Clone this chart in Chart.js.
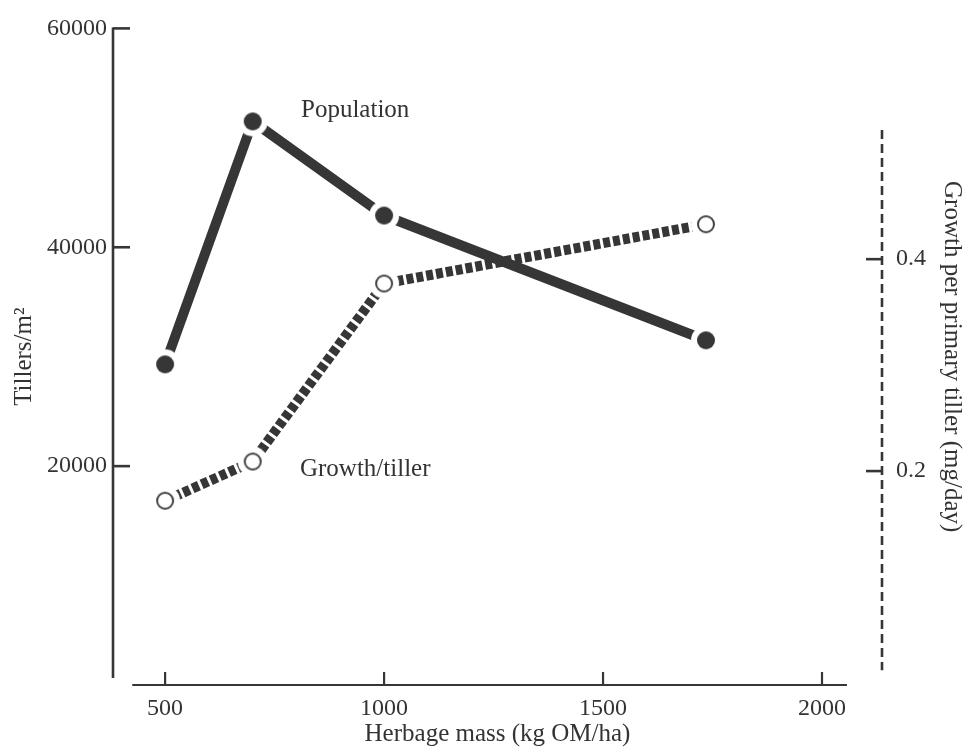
<!DOCTYPE html>
<html lang="en">
<head>
    <meta charset="UTF-8">
    <title>Tillers and growth per tiller vs herbage mass</title>
    <script src="https://cdn.jsdelivr.net/npm/chart.js"></script>
    <style>
        body { margin: 0; background: #fff; }
        #chart-container { width: 967px; height: 749px; }
    </style>
</head>
<body>
    <div id="chart-container">
        <canvas id="tillerChart" width="967" height="749"></canvas>
    </div>

    <script>
        // Herbage mass (kg OM/ha) at each sampling
        const herbageMass = [500, 700, 1000, 1735];
        // Tiller population (tillers/m²)
        const tillers = [29300, 51500, 42900, 31500];
        // Growth per primary tiller (mg/day)
        const growthPerTiller = [0.172, 0.209, 0.377, 0.433];

        const xTicks = [500, 1000, 1500, 2000];
        const tillerTicks = [20000, 40000, 60000];
        const growthTicks = [0.2, 0.4];

        const INK = "#363636";
        const SERIF = "'Liberation Serif', 'DejaVu Serif', serif";

        Chart.defaults.font.family = SERIF;
        Chart.defaults.color = "#333";

        // Point marker with a white halo so the line stops short of it
        function makeMarker(filled) {
            const c = document.createElement("canvas");
            c.width = c.height = 32;
            const g = c.getContext("2d");
            g.fillStyle = "#fff";
            g.beginPath();
            g.arc(16, 16, 15, 0, Math.PI * 2);
            g.fill();
            g.beginPath();
            if (filled) {
                g.arc(16, 16, 9, 0, Math.PI * 2);
                g.fillStyle = INK;
                g.fill();
            } else {
                g.arc(16, 16, 8, 0, Math.PI * 2);
                g.lineWidth = 2;
                g.strokeStyle = "#444";
                g.stroke();
            }
            return c;
        }

        function setTicks(values) {
            return function (scale) {
                scale.ticks = values.map(v => ({ value: v }));
            };
        }

        // Axis lines, inward tick marks and curve labels
        const axisDecor = {
            id: "axisDecor",
            beforeDatasetsDraw(chart) {
                const { ctx, chartArea, scales } = chart;
                const x = scales.x, y = scales.y, yr = scales.yGrowth;
                ctx.save();
                ctx.strokeStyle = INK;
                ctx.lineCap = "butt";

                // left axis
                ctx.lineWidth = 2.6;
                ctx.beginPath();
                ctx.moveTo(chartArea.left, y.getPixelForValue(60000) - 1);
                ctx.lineTo(chartArea.left, chartArea.bottom - 7);
                ctx.stroke();
                tillerTicks.forEach(v => {
                    const py = y.getPixelForValue(v);
                    ctx.beginPath();
                    ctx.moveTo(chartArea.left, py);
                    ctx.lineTo(chartArea.left + 17, py);
                    ctx.stroke();
                });

                // bottom axis
                ctx.lineWidth = 2.2;
                ctx.beginPath();
                ctx.moveTo(x.getPixelForValue(425), chartArea.bottom);
                ctx.lineTo(x.getPixelForValue(2057), chartArea.bottom);
                ctx.stroke();
                xTicks.forEach(v => {
                    const px = x.getPixelForValue(v);
                    ctx.beginPath();
                    ctx.moveTo(px, chartArea.bottom);
                    ctx.lineTo(px, chartArea.bottom - 13);
                    ctx.stroke();
                });

                // right dashed axis
                ctx.lineWidth = 2.6;
                ctx.setLineDash([9, 5]);
                ctx.beginPath();
                ctx.moveTo(chartArea.right, yr.getPixelForValue(0.522));
                ctx.lineTo(chartArea.right, yr.getPixelForValue(0.012));
                ctx.stroke();
                ctx.setLineDash([]);
                growthTicks.forEach(v => {
                    const py = yr.getPixelForValue(v);
                    ctx.beginPath();
                    ctx.moveTo(chartArea.right, py);
                    ctx.lineTo(chartArea.right - 16, py);
                    ctx.stroke();
                });
                ctx.restore();
            },
            afterDatasetsDraw(chart) {
                const { ctx, scales } = chart;
                ctx.save();
                ctx.fillStyle = "#333";
                ctx.font = "25px " + SERIF;
                ctx.textAlign = "center";
                ctx.textBaseline = "middle";
                ctx.fillText("Population", scales.x.getPixelForValue(934), scales.y.getPixelForValue(52500));
                ctx.fillText("Growth/tiller", scales.x.getPixelForValue(957), scales.y.getPixelForValue(19700));
                ctx.restore();
            }
        };

        const ctx = document.getElementById("tillerChart").getContext("2d");
        const tillerChart = new Chart(ctx, {
            type: "line",
            data: {
                datasets: [
                    {
                        label: "Population",
                        data: herbageMass.map((m, i) => ({ x: m, y: tillers[i] })),
                        yAxisID: "y",
                        borderColor: INK,
                        borderWidth: 10,
                        borderJoinStyle: "bevel",
                        pointStyle: makeMarker(true),
                        pointRadius: 9,
                        tension: 0
                    },
                    {
                        label: "Growth/tiller",
                        data: herbageMass.map((m, i) => ({ x: m, y: growthPerTiller[i] })),
                        yAxisID: "yGrowth",
                        borderColor: INK,
                        borderWidth: 10,
                        borderDash: [7, 3],
                        borderCapStyle: "butt",
                        pointStyle: makeMarker(false),
                        pointRadius: 9,
                        tension: 0
                    }
                ]
            },
            options: {
                responsive: false,
                animation: false,
                events: [],
                layout: { padding: { top: 25, left: 0, right: 0, bottom: 0 } },
                plugins: {
                    legend: { display: false },
                    tooltip: { enabled: false }
                },
                scales: {
                    x: {
                        type: "linear",
                        min: 381,
                        max: 2137,
                        afterBuildTicks: setTicks(xTicks),
                        afterFit(scale) { scale.height = 64; },
                        grid: { display: false, drawTicks: false },
                        border: { display: false },
                        ticks: {
                            padding: 9,
                            font: { size: 24 },
                            callback: v => String(v)
                        },
                        title: {
                            display: true,
                            text: "Herbage mass (kg OM/ha)",
                            font: { size: 25 },
                            padding: { top: 0, bottom: 0 }
                        }
                    },
                    y: {
                        type: "linear",
                        position: "left",
                        min: 0,
                        max: 60000,
                        afterBuildTicks: setTicks(tillerTicks),
                        afterFit(scale) { scale.width = 113; },
                        grid: { display: false, drawTicks: false },
                        border: { display: false },
                        ticks: {
                            padding: 6,
                            font: { size: 24 },
                            callback: v => String(v)
                        },
                        title: {
                            display: true,
                            text: "Tillers/m²",
                            font: { size: 25 },
                            padding: { top: 9, bottom: 0 }
                        }
                    },
                    yGrowth: {
                        type: "linear",
                        position: "right",
                        min: -0.0019,
                        max: 0.6178,
                        afterBuildTicks: setTicks(growthTicks),
                        afterFit(scale) { scale.width = 85; },
                        grid: { display: false, drawTicks: false },
                        border: { display: false },
                        ticks: {
                            padding: 14,
                            font: { size: 24 },
                            callback: v => String(v)
                        },
                        title: {
                            display: true,
                            text: "Growth per primary tiller (mg/day)",
                            font: { size: 25 },
                            padding: { top: 0, bottom: 0 }
                        }
                    }
                }
            },
            plugins: [axisDecor]
        });
    </script>
</body>
</html>
